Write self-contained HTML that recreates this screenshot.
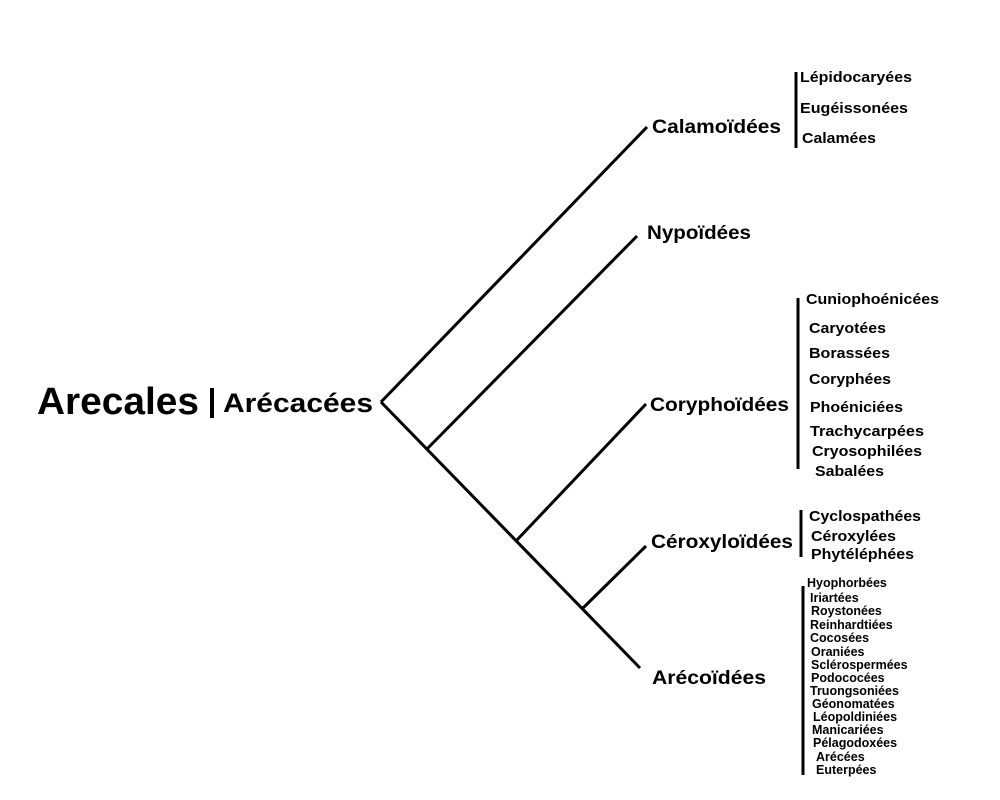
<!DOCTYPE html>
<html><head><style>body{margin:0;background:#fff}svg{display:block}</style></head><body>
<svg width="1000" height="800" xmlns="http://www.w3.org/2000/svg" font-family="Liberation Sans, sans-serif" font-weight="bold">
<g stroke="#000" stroke-width="3" fill="none">
<line x1="381" y1="402" x2="647" y2="127"/>
<line x1="381" y1="402" x2="640" y2="668"/>
<line x1="427" y1="449" x2="637" y2="236"/>
<line x1="516" y1="541" x2="646" y2="404"/>
<line x1="582" y1="609" x2="646" y2="546"/>
<line x1="796" y1="72" x2="796" y2="148"/>
<line x1="798" y1="298" x2="798" y2="469"/>
<line x1="801" y1="510" x2="801" y2="557"/>
<line x1="803" y1="586" x2="803" y2="775"/>
<line x1="212" y1="388" x2="212" y2="418" stroke-width="4"/>
</g>
<g lengthAdjust="spacingAndGlyphs">
<text x="37" y="414" font-size="38" textLength="162" lengthAdjust="spacingAndGlyphs">Arecales</text>
<text x="223" y="412" font-size="27" textLength="150" lengthAdjust="spacingAndGlyphs">Arécacées</text>
</g>
<g font-size="19">
<text x="652" y="133" textLength="129" lengthAdjust="spacingAndGlyphs">Calamoïdées</text>
<text x="647" y="239" textLength="104" lengthAdjust="spacingAndGlyphs">Nypoïdées</text>
<text x="650" y="411" textLength="139" lengthAdjust="spacingAndGlyphs">Coryphoïdées</text>
<text x="651" y="548" textLength="142" lengthAdjust="spacingAndGlyphs">Céroxyloïdées</text>
<text x="652" y="684" textLength="114" lengthAdjust="spacingAndGlyphs">Arécoïdées</text>
</g>
<g font-size="15">
<text x="800" y="82" textLength="112" lengthAdjust="spacingAndGlyphs">Lépidocaryées</text>
<text x="800" y="113" textLength="108" lengthAdjust="spacingAndGlyphs">Eugéissonées</text>
<text x="802" y="143" textLength="74" lengthAdjust="spacingAndGlyphs">Calamées</text>
<text x="806" y="304" textLength="133" lengthAdjust="spacingAndGlyphs">Cuniophoénicées</text>
<text x="809" y="333" textLength="77" lengthAdjust="spacingAndGlyphs">Caryotées</text>
<text x="809" y="358" textLength="81" lengthAdjust="spacingAndGlyphs">Borassées</text>
<text x="809" y="384" textLength="82" lengthAdjust="spacingAndGlyphs">Coryphées</text>
<text x="810" y="412" textLength="93" lengthAdjust="spacingAndGlyphs">Phoéniciées</text>
<text x="810" y="436" textLength="114" lengthAdjust="spacingAndGlyphs">Trachycarpées</text>
<text x="812" y="456" textLength="110" lengthAdjust="spacingAndGlyphs">Cryosophilées</text>
<text x="815" y="476" textLength="69" lengthAdjust="spacingAndGlyphs">Sabalées</text>
<text x="809" y="521" textLength="112" lengthAdjust="spacingAndGlyphs">Cyclospathées</text>
<text x="811" y="541" textLength="85" lengthAdjust="spacingAndGlyphs">Céroxylées</text>
<text x="811" y="559" textLength="103" lengthAdjust="spacingAndGlyphs">Phytéléphées</text>
</g>
<g font-size="12.5">
<text x="807" y="587">Hyophorbées</text>
<text x="810" y="602">Iriartées</text>
<text x="811" y="615">Roystonées</text>
<text x="810" y="629">Reinhardtiées</text>
<text x="810" y="642">Cocosées</text>
<text x="811" y="656">Oraniées</text>
<text x="811" y="669">Sclérospermées</text>
<text x="811" y="682">Podococées</text>
<text x="810" y="695">Truongsoniées</text>
<text x="812" y="708">Géonomatées</text>
<text x="813" y="721">Léopoldiniées</text>
<text x="812" y="734">Manicariées</text>
<text x="813" y="747">Pélagodoxées</text>
<text x="816" y="761">Arécées</text>
<text x="816" y="774">Euterpées</text>
</g>
</svg>
</body></html>
